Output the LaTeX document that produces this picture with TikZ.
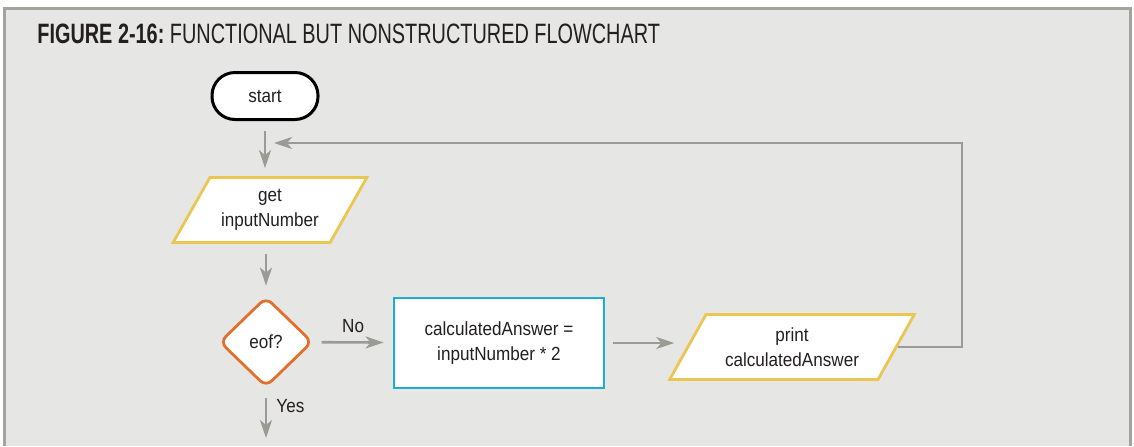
\documentclass[tikz,border=0pt]{standalone}
\usepackage{fontspec}
\usepackage{tikz}
\usetikzlibrary{arrows.meta,shapes.geometric,positioning}
\newfontfamily\flowfont[FakeStretch=0.9]{Liberation Sans}
\newfontfamily\titlefont[FakeStretch=0.71]{Liberation Sans}
\definecolor{framefill}{HTML}{E6E6E4}
\definecolor{framegray}{HTML}{A3A39D}
\definecolor{linegray}{HTML}{9B9B95}
\definecolor{iogold}{HTML}{EAC652}
\definecolor{eoforange}{HTML}{E0702B}
\definecolor{boxcyan}{HTML}{1BADD5}
\definecolor{inkgray}{HTML}{231F20}

\begin{document}
\begin{tikzpicture}[x=0.5pt,y=-0.5pt,
  every node/.style={font=\flowfont\fontsize{9.5}{12.5}\selectfont,text=inkgray,align=center,inner sep=0pt},
  terminal/.style={draw=black,fill=white,line width=1.5pt,rounded corners=11.5pt,minimum width=53pt,minimum height=23.5pt},
  io/.style={trapezium,trapezium left angle=54,trapezium right angle=126,trapezium stretches=true,draw=iogold,fill=white,line width=1.4pt,minimum width=97.5pt,minimum height=32.5pt},
  decision/.style={diamond,draw=eoforange,fill=white,line width=1.4pt,rounded corners=4pt,minimum width=46.5pt,minimum height=45pt},
  process/.style={rectangle,draw=boxcyan,fill=white,line width=1.4pt,minimum width=105pt,minimum height=45pt},
  flow/.style={draw=linegray,line width=1.3pt,-{Stealth[length=9pt,width=6pt,inset=2.5pt]}},
  lbl/.style={font=\flowfont\fontsize{9.5}{12.5}\selectfont}]
\useasboundingbox (0,0) rectangle (1134,446);
% frame
\filldraw[fill=framefill,draw=framegray,line width=1.5pt] (4,446) -- (4,8) -- (1130,8) -- (1130,446);
\node[anchor=base west,font=\titlefont\fontsize{14}{16}\selectfont] (title) at (37,43) {\bfseries FIGURE 2-16:\mdseries\ FUNCTIONAL BUT NONSTRUCTURED FLOWCHART};

\node[terminal] (start) at (265,96) {start};
\node[io] (get) at (270,210) {get\\inputNumber};
\node[decision] (eof) at (266,342) {eof?};
\node[process] (calc) at (499,343) {calculatedAnswer =\\inputNumber * 2};
\node[io,minimum width=123.5pt] (print) at (792,347) {print\\calculatedAnswer};
\coordinate (loopend) at (274,143);
\coordinate (yesend) at (266,438);

\draw[flow,shorten <=5pt,shorten >=4pt] (start) -- (start |- get.north);
\draw[flow,shorten <=5pt,shorten >=5pt] (get.south -| eof) -- (eof);
\draw[flow,shorten <=4pt,shorten >=4.5pt] (eof) -- node[lbl,above=4pt] (no) {No} (calc);
\draw[flow,shorten <=4pt,shorten >=6pt] (calc) -- (calc -| print.west);
\draw[flow,shorten <=5pt] (eof) -- (yesend);
\node[lbl,right=5pt of eof.south,yshift=-9pt] (yes) {Yes};
\draw[flow] (print.east) -| (962,143) -- (loopend);
\end{tikzpicture}
\end{document}
